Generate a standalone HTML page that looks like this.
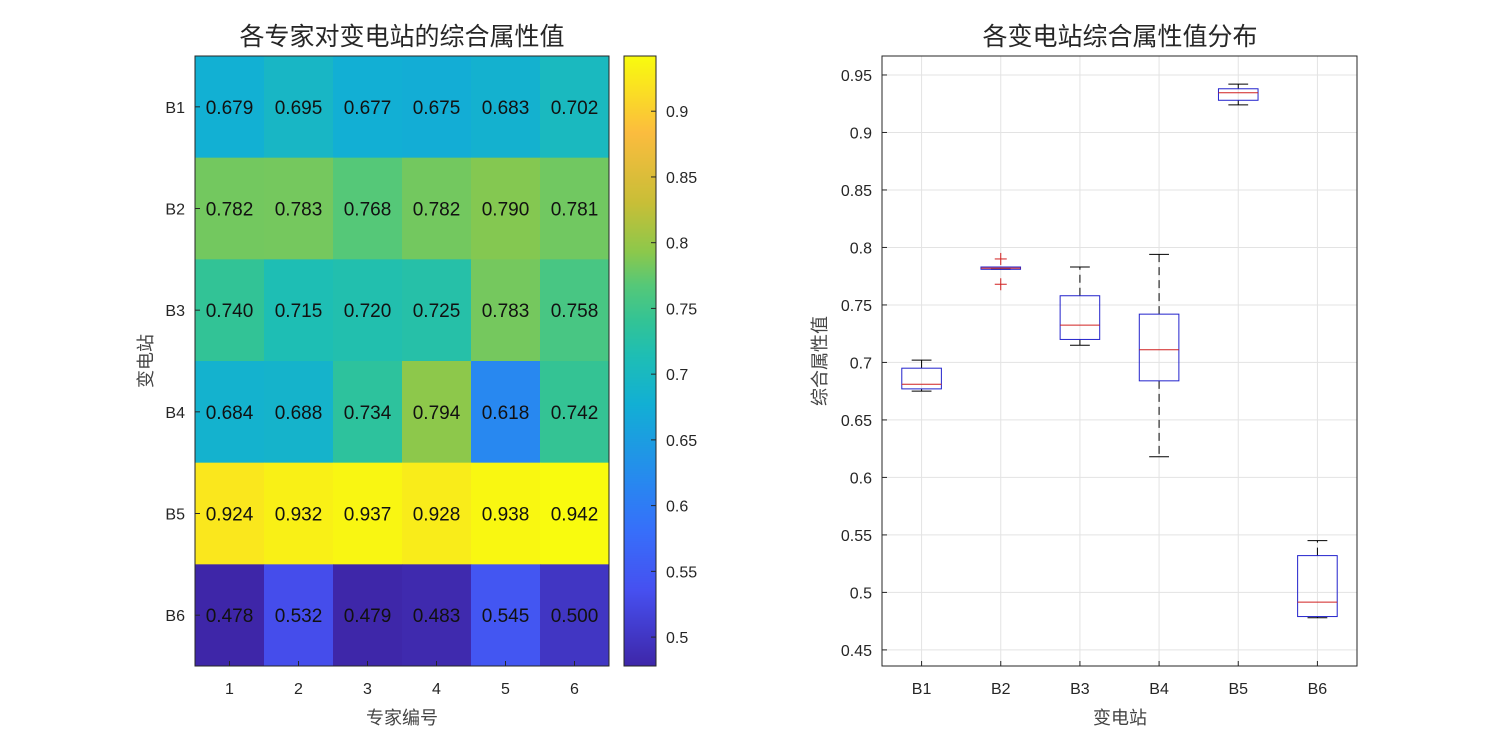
<!DOCTYPE html>
<html><head><meta charset="utf-8"><style>
body{margin:0;background:#fff;}
svg{display:block;font-family:"Liberation Sans","Noto Sans CJK SC",sans-serif;}
</style></head><body>
<svg id="s" width="1500" height="750" xmlns="http://www.w3.org/2000/svg"></svg>
<script>
const stations=["B1","B2","B3","B4","B5","B6"];
const experts=["1","2","3","4","5","6"];
const rowB1=[0.679,0.695,0.677,0.675,0.683,0.702];
const rowB2=[0.782,0.783,0.768,0.782,0.790,0.781];
const rowB3=[0.740,0.715,0.720,0.725,0.783,0.758];
const rowB4=[0.684,0.688,0.734,0.794,0.618,0.742];
const rowB5=[0.924,0.932,0.937,0.928,0.938,0.942];
const rowB6=[0.478,0.532,0.479,0.483,0.545,0.500];
const rows=[rowB1,rowB2,rowB3,rowB4,rowB5,rowB6];
const cbTicks=[0.5,0.55,0.6,0.65,0.7,0.75,0.8,0.85,0.9];
const boxTicks=[0.45,0.5,0.55,0.6,0.65,0.7,0.75,0.8,0.85,0.9,0.95];

const S=document.getElementById('s');
const NS="http://www.w3.org/2000/svg";
function mk(tag,attrs,parent){const e=document.createElementNS(NS,tag);for(const k in attrs)e.setAttribute(k,attrs[k]);(parent||S).appendChild(e);return e;}
function txt(x,y,t,size,anchor,parent,extra){const e=mk('text',Object.assign({x:x,y:y,'font-size':size,'text-anchor':anchor||'middle',fill:'#262626'},extra||{}),parent);e.textContent=t;return e;}
const stops=[[0,[62,38,168]],[0.125,[70,80,240]],[0.22,[55,110,250]],[0.3,[40,135,240]],[0.43,[18,175,212]],[0.51,[30,190,180]],[0.565,[50,195,150]],[0.625,[85,200,120]],[0.68,[140,200,75]],[0.76,[200,190,55]],[0.875,[251,188,62]],[1,[249,251,14]]];
function parula(t){t=Math.max(0,Math.min(1,t));for(let i=1;i<stops.length;i++){if(t<=stops[i][0]){const a=stops[i-1],b=stops[i];const f=(t-a[0])/(b[0]-a[0]);const c=a[1].map((v,j)=>Math.round(v+(b[1][j]-v)*f));return `rgb(${c})`;}}return 'rgb(249,251,14)';}

// Heatmap
const hx0=195,hx1=609,hy0=56,hy1=666;
const all=rows.flat();const vmin=Math.min(...all),vmax=Math.max(...all);
const cw=(hx1-hx0)/experts.length,ch=(hy1-hy0)/stations.length;
const hm=mk('g',{});


rows.forEach((r,i)=>r.forEach((v,j)=>{
  const c=mk('rect',{x:hx0+j*cw,y:hy0+i*ch,width:cw+0.5,height:ch+0.5,fill:parula((v-vmin)/(vmax-vmin))},hm);
  
  
  const t=txt(hx0+(j+0.5)*cw,hy0+(i+0.5)*ch+7,v.toFixed(3),19,'middle',hm,{fill:'#111'});
  
  
}));
stations.forEach((s,i)=>{mk('line',{x1:hx0,x2:hx0+5,y1:hy0+(i+0.5)*ch,y2:hy0+(i+0.5)*ch,stroke:'#262626'});
  const t=txt(hx0-10,hy0+(i+0.5)*ch+6,s,16,'end');});
experts.forEach((s,j)=>{mk('line',{x1:hx0+(j+0.5)*cw,x2:hx0+(j+0.5)*cw,y1:hy1,y2:hy1-5,stroke:'#262626'});
  const t=txt(hx0+(j+0.5)*cw,hy1+28,s,16);});
mk('rect',{x:hx0,y:hy0,width:hx1-hx0,height:hy1-hy0,fill:'none',stroke:'#262626','stroke-width':1});
let t=txt(402,45,'各专家对变电站的综合属性值',25);
t=txt(402,724,'专家编号',18,'middle',null,{fill:'#444'});
t=txt(0,0,'变电站',18,'middle',null,{fill:'#444',transform:'translate(152,361) rotate(-90)'});

// Colorbar
const cx0=624,cx1=656;
const cb=mk('g',{});


for(let y=hy0;y<hy1;y++){mk('rect',{x:cx0,y:y,width:cx1-cx0,height:1.2,fill:parula(1-(y-hy0)/(hy1-hy0))},cb);}
mk('rect',{x:cx0,y:hy0,width:cx1-cx0,height:hy1-hy0,fill:'none',stroke:'#262626'},cb);
function cy(v){return hy1-(v-vmin)/(vmax-vmin)*(hy1-hy0);}
cbTicks.forEach(v=>{mk('line',{x1:cx1-5,x2:cx1,y1:cy(v),y2:cy(v),stroke:'#262626'},cb);
  const e=txt(cx1+10,cy(v)+6,String(v),16,'start',cb);});

// Box plot
const bx0=882,bx1=1357,by0=56,by1=666,ymin=0.436,ymax=0.9665;
function Y(v){return by1-(v-ymin)/(ymax-ymin)*(by1-by0);}
const bw=(bx1-bx0)/stations.length;
function X(i){return bx0+(i+0.5)*bw;}
const bp=mk('g',{});


boxTicks.forEach(v=>{mk('line',{x1:bx0,x2:bx1,y1:Y(v),y2:Y(v),stroke:'#e3e3e3'},bp);
  mk('line',{x1:bx0,x2:bx0+5,y1:Y(v),y2:Y(v),stroke:'#262626'},bp);
  const e=txt(bx0-10,Y(v)+6,String(v),16,'end',bp);});
stations.forEach((s,i)=>{mk('line',{x1:X(i),x2:X(i),y1:by0,y2:by1,stroke:'#e3e3e3'},bp);
  mk('line',{x1:X(i),x2:X(i),y1:by1,y2:by1-5,stroke:'#262626'},bp);
  const e=txt(X(i),by1+28,s,16,'middle',bp);});
rows.forEach((r,i)=>{
  const a=[...r].sort((p,q)=>p-q);
  const q1=a[1],q3=a[4],med=(a[2]+a[3])/2,iqr=q3-q1;
  const lo=a.filter(v=>v>=q1-1.5*iqr),hi=a.filter(v=>v<=q3+1.5*iqr);
  const wl=Math.min(...lo),wh=Math.max(...hi);
  const g=mk('g',{},bp);
  
  
  const x=X(i),hw=bw*0.25;
  mk('line',{x1:x,x2:x,y1:Y(q3),y2:Y(wh),stroke:'#000','stroke-dasharray':'8,5'},g);
  mk('line',{x1:x,x2:x,y1:Y(q1),y2:Y(wl),stroke:'#000','stroke-dasharray':'8,5'},g);
  mk('line',{x1:x-hw/2,x2:x+hw/2,y1:Y(wh),y2:Y(wh),stroke:'#000'},g);
  mk('line',{x1:x-hw/2,x2:x+hw/2,y1:Y(wl),y2:Y(wl),stroke:'#000'},g);
  mk('rect',{x:x-hw,y:Y(q3),width:2*hw,height:Math.max(1,Y(q1)-Y(q3)),fill:'none',stroke:'#2222cc'},g);
  mk('line',{x1:x-hw,x2:x+hw,y1:Y(med),y2:Y(med),stroke:'#d02020'},g);
  a.filter(v=>v<wl||v>wh).forEach(v=>{
    mk('line',{x1:x-6,x2:x+6,y1:Y(v),y2:Y(v),stroke:'#d02020'},g);
    mk('line',{x1:x,x2:x,y1:Y(v)-6,y2:Y(v)+6,stroke:'#d02020'},g);
  });
});
mk('rect',{x:bx0,y:by0,width:bx1-bx0,height:by1-by0,fill:'none',stroke:'#262626'},bp);
t=txt(1120,45,'各变电站综合属性值分布',25);
t=txt(1120,724,'变电站',18,'middle',null,{fill:'#444'});
t=txt(0,0,'综合属性值',18,'middle',null,{fill:'#444',transform:'translate(826,361) rotate(-90)'});
</script>
</body></html>
